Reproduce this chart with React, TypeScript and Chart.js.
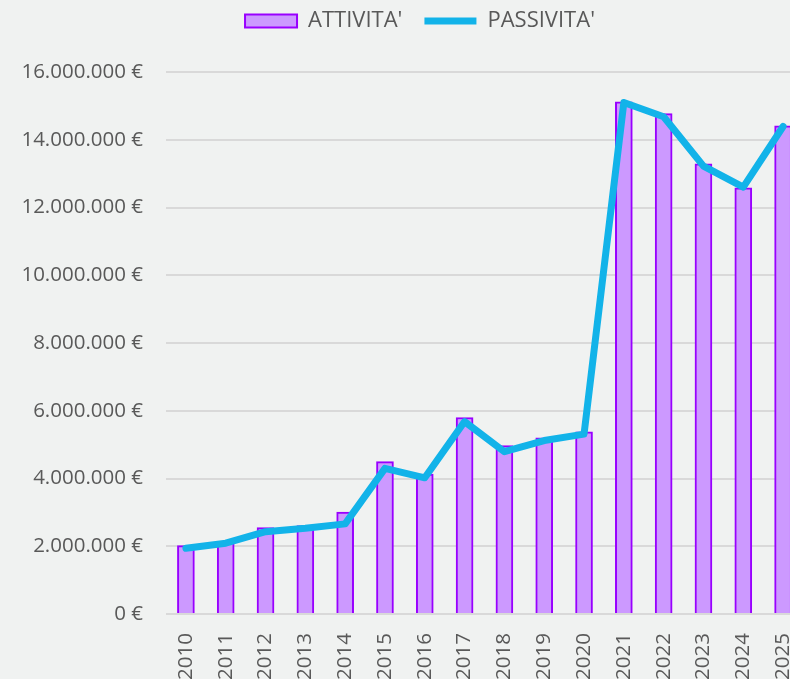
import React, { useEffect, useRef } from "react";
import { Chart, registerables } from "chart.js";

Chart.register(...registerables);

const years = ["2010","2011","2012","2013","2014","2015","2016","2017","2018","2019","2020","2021","2022","2023","2024","2025"];
const attivita = [2.02e6, 2.14e6, 2.55e6, 2.61e6, 3.01e6, 4.50e6, 4.13e6, 5.80e6, 4.97e6, 5.20e6, 5.38e6, 15.12e6, 14.77e6, 13.29e6, 12.58e6, 14.41e6];
const passivita = [1.94e6, 2.09e6, 2.43e6, 2.53e6, 2.66e6, 4.30e6, 4.02e6, 5.68e6, 4.79e6, 5.12e6, 5.31e6, 15.10e6, 14.68e6, 13.22e6, 12.60e6, 14.39e6];

const FONT = "'Open Sans', sans-serif";
const TEXT = "#595959";

function fmt(v: number): string {
  const s = Math.round(v).toString().replace(/\B(?=(\d{3})+(?!\d))/g, ".");
  return s + "\u00a0€";
}

export default function App() {
  const ref = useRef<HTMLCanvasElement | null>(null);
  useEffect(() => {
    if (!ref.current) return;
    const chart = new Chart(ref.current, {
      type: "bar",
      data: {
        labels: years,
        datasets: [
          {
            type: "bar",
            label: "ATTIVITA'",
            data: attivita,
            backgroundColor: "#CC99FF",
            borderColor: "#9900FF",
            borderWidth: 2,
            barThickness: 17,
            pointStyle: "rect",
            yAxisID: "y",
            order: 1,
          } as any,
          {
            type: "line",
            label: "PASSIVITA'",
            data: passivita,
            borderColor: "#12B3E9",
            backgroundColor: "#12B3E9",
            borderWidth: 7,
            borderCapStyle: "round",
            borderJoinStyle: "round",
            pointRadius: 0,
            pointHoverRadius: 0,
            pointStyle: "line",
            tension: 0,
            yAxisID: "y",
            order: 0,
          } as any,
        ],
      },
      options: {
        animation: false,
        responsive: false,
        maintainAspectRatio: false,
        layout: { padding: { left: 0, right: 0, top: -12, bottom: 0 } },
        plugins: {
          tooltip: { enabled: false },
          title: {
            display: true,
            text: "",
            position: "top",
            weight: 500,
            font: { size: 10, lineHeight: 1 },
            padding: { top: 20, bottom: 0 },
          } as any,
          legend: {
            position: "top",
            labels: {
              usePointStyle: true,
              pointStyleWidth: 52,
              boxHeight: 13,
              padding: 22,
              color: TEXT,
              font: { family: FONT, size: 22 },
              sort: (a: any, b: any) => a.datasetIndex - b.datasetIndex,
            },
          },
        },
        scales: {
          x: {
            offset: true,
            grid: { display: false, drawTicks: false },
            border: { display: false },
            ticks: {
              minRotation: 90,
              maxRotation: 90,
              padding: 19,
              color: TEXT,
              font: { family: FONT, size: 20.5 },
              autoSkip: false,
            },
            afterFit: (s: any) => { s.height = 720 - 614; },
          },
          y: {
            position: "left",
            min: 0,
            max: 16000000,
            grid: { color: "#D9D9D9", lineWidth: 2, drawTicks: false },
            border: { display: false },
            ticks: {
              stepSize: 2000000,
              padding: 23,
              color: TEXT,
              font: { family: FONT, size: 20.5 },
              callback: (v: any) => fmt(Number(v)),
            },
            afterFit: (s: any) => { s.width = 166; },
          },
          yRight: {
            type: "linear",
            position: "right",
            min: 0,
            max: 1,
            grid: { display: false, drawTicks: false },
            border: { display: false },
            ticks: { display: false },
            afterFit: (s: any) => { s.width = 37; },
          } as any,
        },
      },
    });
    return () => chart.destroy();
  }, []);
  return (
    <div style={{ position: "absolute", left: 0, top: 0, width: 790, height: 679, overflow: "hidden", background: "#F0F2F1" }}>
      <canvas ref={ref} width={840} height={720} style={{ display: "block", width: 840, height: 720 }} />
    </div>
  );
}
